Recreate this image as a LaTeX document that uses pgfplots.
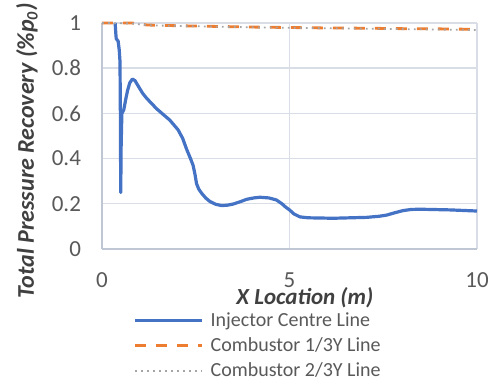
\documentclass[border=0pt]{standalone}
\usepackage{fontspec}
\setmainfont{Carlito}
\usepackage{pgfplots}
\pgfplotsset{compat=1.18}
\definecolor{cblue}{HTML}{4472C4}
\definecolor{corange}{HTML}{ED7D31}
\definecolor{cgray}{HTML}{A5A5A5}
\definecolor{gridc}{HTML}{D9DDE6}
\definecolor{axisc}{HTML}{BFC6D4}
\definecolor{tickc}{HTML}{595959}
\definecolor{labc}{HTML}{404040}
\begin{document}
\begin{tikzpicture}
\useasboundingbox (-51pt,-65pt) rectangle (193pt,124.5pt);
\begin{axis}[
  at={(0,0)}, anchor=south west,
  scale only axis, width=187.5pt, height=113pt,
  xmin=0, xmax=10, ymin=0, ymax=1,
  xtick={0,5,10}, ytick={0,0.2,0.4,0.6,0.8,1},
  yticklabels={0,0.2,0.4,0.6,0.8,1},
  major tick length=0pt,
  grid=major,
  major grid style={color=gridc, line width=0.7pt},
  axis x line*=bottom, axis y line*=left,
  axis line style={-, color=axisc, line width=0.8pt},
  clip=false,
  /pgf/number format/assume math mode=true,
  tick label style={font=\fontsize{11.5}{13}\selectfont, color=tickc},
  xticklabel style={inner sep=0pt, yshift=-11.6pt},
  yticklabel style={xshift=-7pt},
  xlabel={\textbf{\textit{X Location (m)}}},
  ylabel={\textbf{\textit{Total Pressure Recovery (\%p\textsubscript{0})}}},
  xlabel style={font=\fontsize{11.5}{13}\selectfont, color=labc, inner sep=0pt, at={(rel axis cs:0.541,0)}, anchor=center, yshift=-24.3pt},
  ylabel style={font=\fontsize{12}{14}\selectfont, color=labc, at={(rel axis cs:0,0.434)}, anchor=center, yshift=37.5pt},
  legend cell align=left,
  legend style={at={(rel axis cs:0.0827,0)}, anchor=north west, yshift=-29.5pt,
    draw=none, fill=none, inner sep=0pt, row sep=0pt,
    font=\fontsize{10}{12}\selectfont, text=tickc,
    nodes={inner xsep=0pt, inner ysep=1pt, text height=8pt, text depth=2.5pt},
    /tikz/every odd column/.append style={column sep=3.5pt}},
  legend image code/.code={\draw[#1] (0pt,0pt) -- (33.5pt,0pt);},
]
\addplot[cblue, line width=1.6pt, line join=round] coordinates {
(0.35,1.0)(0.37,0.95)(0.38,0.93)(0.43,0.92)(0.46,0.88)(0.48,0.83)(0.49,0.6)(0.50,0.25)
(0.51,0.45)(0.53,0.6)(0.58,0.615)(0.63,0.66)(0.68,0.70)(0.74,0.735)(0.81,0.752)
(0.88,0.745)(0.97,0.72)(1.08,0.69)(1.19,0.667)(1.46,0.62)(1.81,0.57)(2.03,0.527)
(2.15,0.49)(2.26,0.44)(2.36,0.40)(2.43,0.37)(2.48,0.33)(2.52,0.29)(2.58,0.265)
(2.66,0.246)(2.77,0.225)(2.88,0.21)(3.03,0.198)(3.19,0.192)(3.35,0.194)(3.5,0.199)
(3.7,0.21)(3.86,0.22)(4.05,0.226)(4.21,0.229)(4.45,0.226)(4.65,0.217)(4.8,0.2)
(4.9,0.185)(5.0,0.173)(5.12,0.155)(5.28,0.142)(5.5,0.138)(6.17,0.136)(7.06,0.14)
(7.4,0.145)(7.59,0.15)(7.8,0.16)(8.03,0.17)(8.25,0.175)(8.48,0.176)(9.28,0.173)(10,0.168)
};
\addlegendentry{Injector Centre Line}
\addplot[corange, line width=1.4pt, dash pattern=on 5.5pt off 5pt] coordinates {
(0,1.0)(0.8,1.0)(1.2,0.991)(2,0.988)(3,0.985)(4,0.982)(5,0.980)(6,0.978)(7,0.977)(8,0.975)(9,0.974)(10,0.972)
};
\addlegendentry{Combustor 1/3Y Line}
\addplot[cgray, line width=0.9pt, dash pattern=on 0.9pt off 2.1pt] coordinates {
(0,1.0)(0.8,0.998)(1.2,0.99)(2,0.987)(3,0.984)(4,0.981)(5,0.979)(6,0.977)(7,0.975)(8,0.973)(9,0.971)(10,0.969)
};
\addlegendentry{Combustor 2/3Y Line}
\end{axis}
\end{tikzpicture}
\end{document}
